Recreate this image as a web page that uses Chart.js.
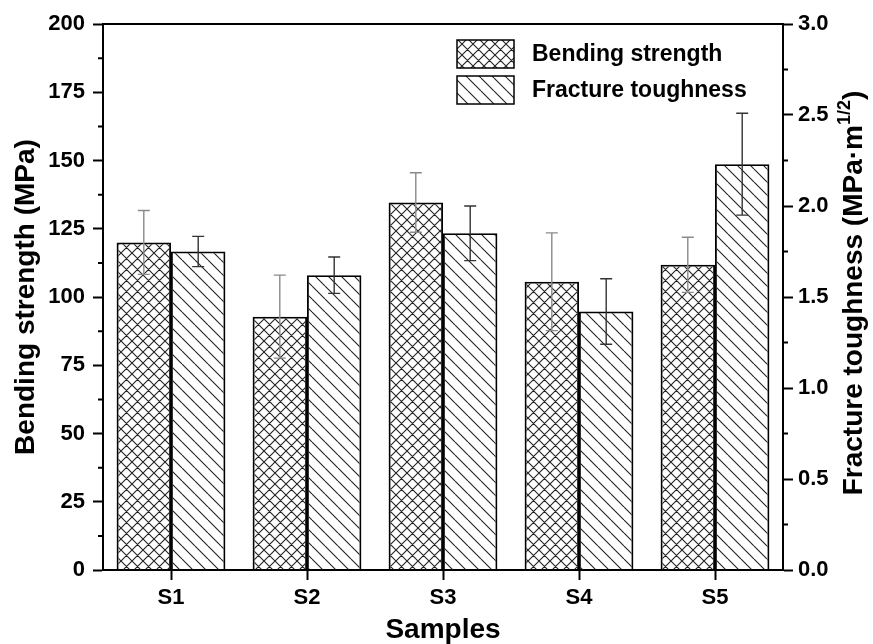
<!DOCTYPE html>
<html>
<head>
<meta charset="utf-8">
<script src="https://cdn.jsdelivr.net/npm/chart.js@4.4.0/dist/chart.umd.min.js"></script>
<style>
  html, body { margin: 0; padding: 0; background: #fff; }
</style>
</head>
<body>
<canvas id="mycanvas" width="873" height="644"></canvas>
<script>
// values
var samples = ['S1', 'S2', 'S3', 'S4', 'S5'];
var bending = [120, 92.8, 134.6, 105.6, 111.8];          // MPa
var bendingErr = [11.7, 15.2, 10.9, 17.9, 10.1];
var toughness = [1.75, 1.62, 1.85, 1.42, 2.23];          // MPa·m^1/2
var toughnessErr = [0.083, 0.10, 0.15, 0.18, 0.28];

var FONT = '"Liberation Sans", Arial, sans-serif';

var canvas = document.getElementById('mycanvas');
var ctx = canvas.getContext('2d');

// hatch fills
function hatch(kind, size) {
  var c = document.createElement('canvas');
  c.width = size; c.height = size;
  var g = c.getContext('2d');
  g.strokeStyle = '#222';
  g.lineWidth = 1.1;
  g.beginPath();
  for (var k = -size; k <= size; k += size) {
    if (kind != 'fwd') { g.moveTo(k, 0); g.lineTo(k + size, size); }
    if (kind != 'back') { g.moveTo(k, size); g.lineTo(k + size, 0); }
  }
  g.stroke();
  return ctx.createPattern(c, 'repeat');
}
var crossFill = hatch('cross', 11);
var backFill = hatch('back', 13);

var errorBars = {
  id: 'errorBars',
  afterDatasetsDraw: function(chart) {
    var c = chart.ctx;
    [[0, bendingErr, '#8a8a8a'], [1, toughnessErr, '#333']].forEach(function(e) {
      var meta = chart.getDatasetMeta(e[0]);
      var scale = chart.scales[meta.yAxisID];
      var vals = chart.data.datasets[e[0]].data;
      meta.data.forEach(function(bar, i) {
        var top = scale.getPixelForValue(vals[i] + e[1][i]);
        var bot = scale.getPixelForValue(vals[i] - e[1][i]);
        c.save();
        c.strokeStyle = e[2];
        c.lineWidth = 1.4;
        c.beginPath();
        c.moveTo(bar.x, top); c.lineTo(bar.x, bot);
        c.moveTo(bar.x - 6, top); c.lineTo(bar.x + 6, top);
        c.moveTo(bar.x - 6, bot); c.lineTo(bar.x + 6, bot);
        c.stroke();
        c.restore();
      });
    });
  }
};

var extras = {
  id: 'extras',
  afterDraw: function(chart) {
    var c = chart.ctx, a = chart.chartArea;
    var y = chart.scales.y, y2 = chart.scales.y2;
    c.save();
    c.strokeStyle = '#000';
    c.lineWidth = 2;
    // top frame
    c.beginPath();
    c.moveTo(a.left - 1, a.top); c.lineTo(a.right + 1, a.top);
    c.stroke();
    // minor ticks
    c.beginPath();
    for (var v = 12.5; v < 200; v += 25) {
      var p = y.getPixelForValue(v);
      c.moveTo(a.left, p); c.lineTo(a.left - 5, p);
    }
    for (var w = 0.25; w < 3; w += 0.5) {
      var q = y2.getPixelForValue(w);
      c.moveTo(a.right, q); c.lineTo(a.right + 5, q);
    }
    c.stroke();

    // legend
    var items = [['Bending strength', crossFill, 40], ['Fracture toughness', backFill, 76]];
    c.font = 'bold 23px ' + FONT;
    c.textBaseline = 'middle';
    c.textAlign = 'left';
    items.forEach(function(it) {
      c.fillStyle = it[1];
      c.fillRect(457, it[2], 57, 28);
      c.lineWidth = 1.5;
      c.strokeRect(457, it[2], 57, 28);
      c.fillStyle = '#000';
      c.fillText(it[0], 532, it[2] + 15);
    });

    // right axis title with superscript
    var main = 'Fracture toughness (MPa\u00b7m', sup = '1/2', end = ')';
    c.translate(862, (a.top + a.bottom) / 2 - 4);
    c.rotate(-Math.PI / 2);
    c.textBaseline = 'alphabetic';
    c.font = 'bold 28px ' + FONT;
    var w1 = c.measureText(main).width, w3 = c.measureText(end).width;
    c.font = 'bold 18px ' + FONT;
    var w2 = c.measureText(sup).width;
    var x0 = -(w1 + w2 + w3) / 2;
    c.fillStyle = '#000';
    c.font = 'bold 28px ' + FONT;
    c.fillText(main, x0, 0);
    c.fillText(end, x0 + w1 + w2, 0);
    c.font = 'bold 18px ' + FONT;
    c.fillText(sup, x0 + w1, -12);
    c.restore();
  }
};

var tickFont = { family: FONT, size: 22, weight: 'bold' };
var titleFont = { family: FONT, size: 28, weight: 'bold' };

var chart = new Chart(ctx, {
  type: 'bar',
  data: {
    labels: samples,
    datasets: [
      {
        label: 'Bending strength',
        data: bending,
        yAxisID: 'y',
        backgroundColor: crossFill,
        borderColor: '#000',
        borderWidth: 1.8,
        categoryPercentage: 0.8,
        barPercentage: 1.0
      },
      {
        label: 'Fracture toughness',
        data: toughness,
        yAxisID: 'y2',
        backgroundColor: backFill,
        borderColor: '#000',
        borderWidth: 1.8,
        categoryPercentage: 0.8,
        barPercentage: 1.0
      }
    ]
  },
  options: {
    responsive: false,
    animation: false,
    events: [],
    layout: { padding: { top: 24, left: 0, right: 0, bottom: 0 } },
    plugins: { legend: { display: false }, tooltip: { enabled: false } },
    scales: {
      x: {
        offset: true,
        grid: { drawOnChartArea: false, offset: false, tickLength: 10, tickWidth: 2, tickColor: '#000' },
        border: { color: '#000', width: 2 },
        ticks: { font: tickFont, color: '#000', padding: 5 },
        title: { display: true, text: 'Samples', font: { family: FONT, size: 28, weight: 'bold', lineHeight: 1.0 },
                 color: '#000', padding: { top: 0, bottom: 0 } },
        afterFit: function(s) { s.height = 74; }
      },
      y: {
        position: 'left',
        min: 0,
        max: 200,
        ticks: { stepSize: 25, font: tickFont, color: '#000', padding: 8 },
        grid: { drawOnChartArea: false, tickLength: 10, tickWidth: 2, tickColor: '#000' },
        border: { color: '#000', width: 2 },
        title: { display: true, text: 'Bending strength (MPa)', font: titleFont, color: '#000', padding: { top: 9, bottom: 0 } },
        afterFit: function(s) { s.width = 103; }
      },
      y2: {
        position: 'right',
        min: 0,
        max: 3,
        ticks: { stepSize: 0.5, font: tickFont, color: '#000', padding: 5,
                 callback: function(v) { return v.toFixed(1); } },
        grid: { drawOnChartArea: false, tickLength: 10, tickWidth: 2, tickColor: '#000' },
        border: { color: '#000', width: 2 },
        afterFit: function(s) { s.width = 90; }
      }
    }
  },
  plugins: [errorBars, extras]
});
</script>
</body>
</html>
